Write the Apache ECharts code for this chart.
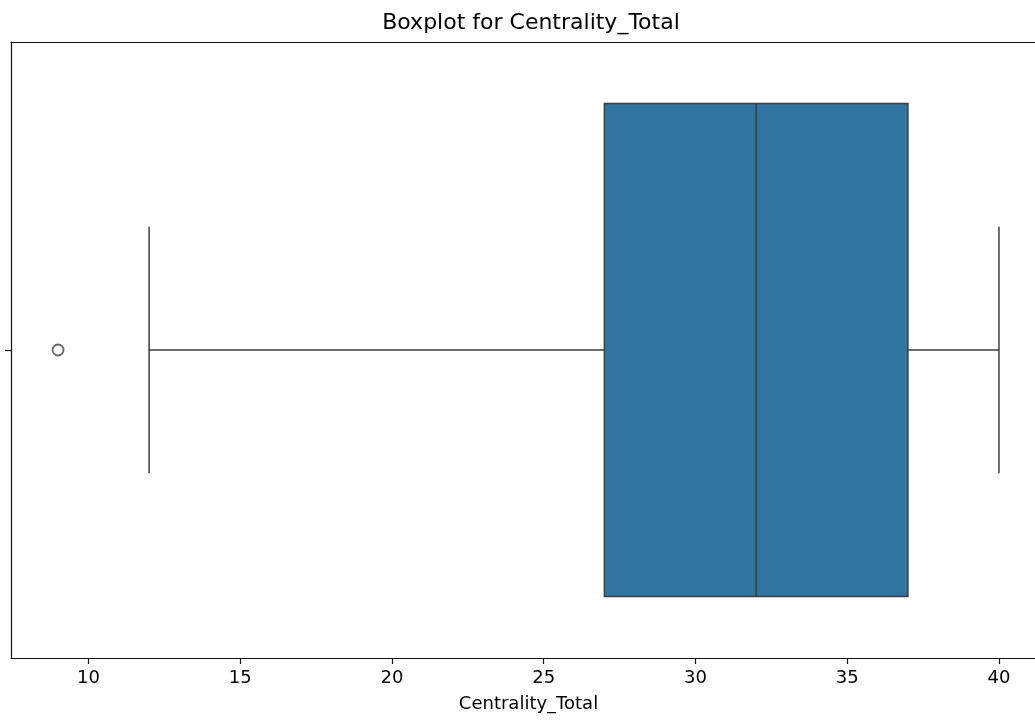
<!DOCTYPE html>
<html>
<head>
<meta charset="utf-8">
<script src="https://cdn.jsdelivr.net/npm/echarts@6/dist/echarts.min.js"></script>
<style>
  html, body { margin: 0; padding: 0; background: #fff; }
  #chart { width: 1035px; height: 721px; }
</style>
</head>
<body>
<div id="chart"></div>
<script>
// Five-number summary of Centrality_Total: [lower whisker, Q1, median, Q3, upper whisker]
const categories = [''];
const boxStats = [[12, 27, 32, 37, 40]];
const outliers = [9];
const xTicks = [10, 15, 20, 25, 30, 35, 40];
const xRange = [7.45, 41.55];

const lineColor = '#3d3d3d';
const boxColor = '#3274a1';
const font = 'DejaVu Sans';

const chart = echarts.init(document.getElementById('chart'), null, { renderer: 'canvas' });

function renderBox(params, api) {
  const cat = api.value(0);
  const low = api.value(1), q1 = api.value(2), med = api.value(3), q3 = api.value(4), high = api.value(5);
  const band = api.size([0, 1])[1];
  const boxH = band * 0.8;
  const capH = band * 0.4;
  const pLow = api.coord([low, cat]);
  const pQ1 = api.coord([q1, cat]);
  const pMed = api.coord([med, cat]);
  const pQ3 = api.coord([q3, cat]);
  const pHigh = api.coord([high, cat]);
  const yc = pMed[1];
  const stroke = { stroke: lineColor, lineWidth: 1.5, fill: null };
  return {
    type: 'group',
    children: [
      { type: 'line', shape: { x1: pLow[0], y1: yc, x2: pQ1[0], y2: yc }, style: stroke },
      { type: 'line', shape: { x1: pQ3[0], y1: yc, x2: pHigh[0], y2: yc }, style: stroke },
      { type: 'line', shape: { x1: pLow[0], y1: yc - capH / 2, x2: pLow[0], y2: yc + capH / 2 }, style: stroke },
      { type: 'line', shape: { x1: pHigh[0], y1: yc - capH / 2, x2: pHigh[0], y2: yc + capH / 2 }, style: stroke },
      { type: 'rect', shape: { x: pQ1[0], y: yc - boxH / 2, width: pQ3[0] - pQ1[0], height: boxH },
        style: { fill: boxColor, stroke: lineColor, lineWidth: 1.5 } },
      { type: 'line', shape: { x1: pMed[0], y1: yc - boxH / 2, x2: pMed[0], y2: yc + boxH / 2 }, style: stroke }
    ]
  };
}

const spine = { show: true, lineStyle: { color: '#111', width: 1.2 } };

chart.setOption({
  animation: false,
  backgroundColor: '#ffffff',
  title: {
    text: 'Boxplot for Centrality_Total',
    left: 526,
    top: 7,
    textAlign: 'center',
    textStyle: { fontFamily: font, fontSize: 22, fontWeight: 'normal', color: '#000' }
  },
  grid: {
    left: 11, top: 42, width: 1035, bottom: 63,
    outerBoundsMode: 'none',
    containLabel: false,
    show: false
  },
  xAxis: [
    {
      type: 'value',
      min: xRange[0],
      max: xRange[1],
      name: 'Centrality_Total',
      nameLocation: 'middle',
      nameGap: 37,
      nameTextStyle: { fontFamily: font, fontSize: 18, color: '#000' },
      splitLine: { show: false },
      axisLine: spine,
      axisTick: { show: true, length: 6, customValues: xTicks, lineStyle: { color: '#111', width: 1.2 } },
      axisLabel: { customValues: xTicks, margin: 11, fontFamily: font, fontSize: 18, color: '#000' }
    },
    {
      // top frame line of the plot area
      type: 'value',
      position: 'top',
      min: xRange[0],
      max: xRange[1],
      axisLine: spine,
      axisTick: { show: false },
      axisLabel: { show: false },
      splitLine: { show: false }
    }
  ],
  yAxis: {
    type: 'category',
    data: categories,
    boundaryGap: true,
    axisLine: spine,
    axisTick: { show: true, alignWithLabel: true, length: 6, lineStyle: { color: '#111', width: 1.2 } },
    axisLabel: { show: false },
    splitLine: { show: false }
  },
  series: [
    {
      type: 'custom',
      renderItem: renderBox,
      encode: { x: [1, 2, 3, 4, 5], y: 0 },
      data: boxStats.map((s, i) => [i].concat(s)),
      z: 2
    },
    {
      type: 'scatter',
      data: outliers.map(v => [v, 0]),
      symbol: 'circle',
      symbolSize: 11,
      itemStyle: { color: '#ffffff', borderColor: lineColor, borderWidth: 1.8 },
      z: 3
    }
  ]
});
</script>
</body>
</html>
